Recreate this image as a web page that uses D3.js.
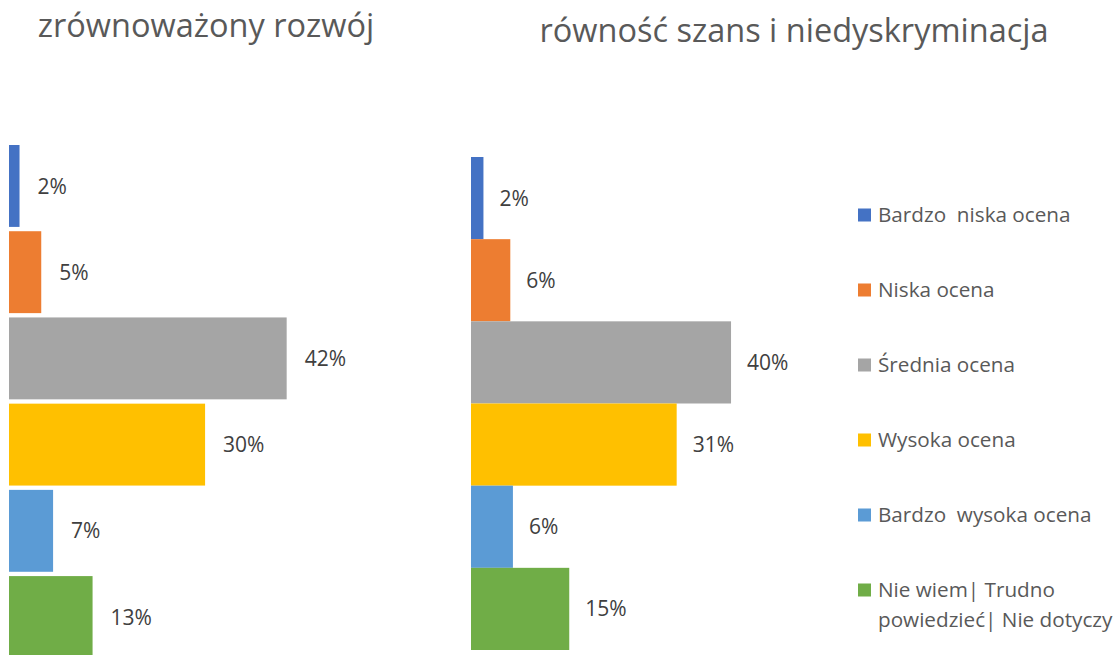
<!DOCTYPE html>
<html>
<head>
<meta charset="utf-8">
<script src="https://cdn.jsdelivr.net/npm/d3@7"></script>
<style>
  body { margin: 0; background: #fff; }
  text { font-family: "Open Sans", sans-serif; }
</style>
</head>
<body>
<div id="chart"></div>
<script>
var categories = ["Bardzo  niska ocena", "Niska ocena", "Średnia ocena", "Wysoka ocena",
                  "Bardzo  wysoka ocena", "Nie wiem| Trudno powiedzieć| Nie dotyczy"];
var colors = ["#4472C4", "#ED7D31", "#A5A5A5", "#FFC000", "#5B9BD5", "#70AD47"];

var titles = ["zrównoważony rozwój", "równość szans i niedyskryminacja"];
// shares in % (labels are rounded)
var sustainable = [1.6, 4.9, 42.2, 29.8, 6.7, 12.7];
var equality = [1.9, 6.0, 39.7, 31.4, 6.4, 15.0];

var width = 1120, height = 655;

var svg = d3.select("#chart")
	.append("svg")
	.attr("width", width)
	.attr("height", height);

var fmt = function(v) { return d3.format(".0f")(v) + "%"; };

function panel(values, title, opts) {
	var x = d3.scaleLinear().domain([0, 100]).range([opts.left, opts.left + opts.pxPerPct * 100]);
	var y = d3.scaleBand().domain(categories).range([opts.top, opts.bottom]).paddingInner(opts.gap).paddingOuter(0);

	var g = svg.append("g");

	g.append("text")
		.attr("x", opts.titleX)
		.attr("y", opts.titleY)
		.attr("text-anchor", "middle")
		.style("font-size", "32.5px")
		.style("fill", "#595959")
		.text(title);

	var rows = g.selectAll("g.row")
		.data(values)
		.enter()
		.append("g")
		.attr("class", "row");

	rows.append("rect")
		.attr("x", x(0))
		.attr("y", function(d, i) { return y(categories[i]); })
		.attr("width", function(d) { return x(d) - x(0); })
		.attr("height", y.bandwidth())
		.style("fill", function(d, i) { return colors[i]; });

	rows.append("text")
		.attr("x", function(d) { return x(d) + opts.labelGap; })
		.attr("y", function(d, i) { return y(categories[i]) + y.bandwidth() / 2; })
		.attr("dy", "0.36em")
		.style("font-size", "21px")
		.style("fill", "#404040")
		.text(fmt);
}

panel(sustainable, titles[0], {left: 9, pxPerPct: 6.58, top: 145, bottom: 658, gap: 0.05,
	titleX: 206, titleY: 37, labelGap: 18});
panel(equality, titles[1], {left: 471, pxPerPct: 6.55, top: 157, bottom: 650, gap: 0,
	titleX: 794, titleY: 42, labelGap: 16});

// legend
var legendY = d3.scalePoint().domain(categories).range([215, 590]);
var legend = svg.append("g");

var items = legend.selectAll("g.item")
	.data(categories)
	.enter()
	.append("g")
	.attr("class", "item")
	.attr("transform", function(d) { return "translate(858," + legendY(d) + ")"; });

items.append("rect")
	.attr("x", 0)
	.attr("y", -6.5)
	.attr("width", 13)
	.attr("height", 13)
	.style("fill", function(d, i) { return colors[i]; });

items.append("text")
	.attr("x", 20)
	.attr("y", 0)
	.style("font-size", "20.7px")
	.style("fill", "#595959")
	.style("white-space", "pre")
	.each(function(d) {
		// simple word wrap
		var el = d3.select(this);
		var words = d.split(" ");
		var lines = [], line = "";
		var probe = el.append("tspan");
		words.forEach(function(w) {
			var test = line ? line + " " + w : w;
			probe.text(test);
			if (line && probe.node().getComputedTextLength() > 245) {
				lines.push(line);
				line = w;
			} else {
				line = test;
			}
		});
		lines.push(line);
		probe.remove();
		lines.forEach(function(l, k) {
			el.append("tspan")
				.attr("x", 20)
				.attr("dy", k === 0 ? "0.36em" : "30px")
				.text(l);
		});
	});
</script>
</body>
</html>
